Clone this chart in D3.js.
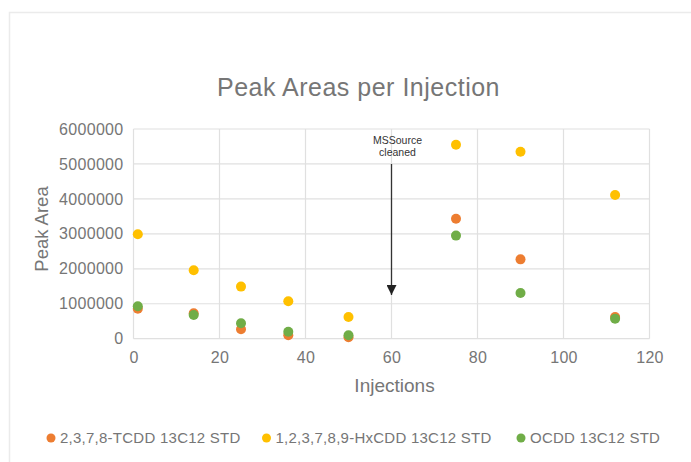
<!DOCTYPE html>
<html>
<head>
<meta charset="utf-8">
<script src="https://cdn.jsdelivr.net/npm/d3@7"></script>
<style>
  body { margin: 0; background: #fff; }
  text { font-family: "Liberation Sans", Arial, sans-serif; }
</style>
</head>
<body>
<div id="chart"></div>
<script>
// ------------------------------------------------------------
// 1. Data
// ------------------------------------------------------------
const injections = [1, 14, 25, 36, 50, 75, 90, 112];
const tcdd = [860000, 730000, 270000, 100000, 40000, 3430000, 2270000, 620000];
const hxcdd = [2990000, 1960000, 1490000, 1070000, 620000, 5550000, 5350000, 4110000];
const ocdd = [930000, 680000, 440000, 200000, 100000, 2950000, 1310000, 570000];

const seriesNames = ["2,3,7,8-TCDD 13C12 STD", "1,2,3,7,8,9-HxCDD 13C12 STD", "OCDD 13C12 STD"];
const seriesColors = ["#ED7D31", "#FFC000", "#70AD47"];
const xTicks = [0, 20, 40, 60, 80, 100, 120];
const yTicks = [0, 1000000, 2000000, 3000000, 4000000, 5000000, 6000000];

// annotation
const noteX = 60;
const noteY = 1250000;
const noteLines = ["MSSource", "cleaned"];

// ------------------------------------------------------------
// 2. Layout
// ------------------------------------------------------------
const width = 691;
const height = 462;
const plot = { left: 133.5, right: 649.5, top: 129, bottom: 338.7 };

const svg = d3.select("#chart")
  .append("svg")
  .attr("width", width)
  .attr("height", height);

// outer chart frame
svg.append("rect")
  .attr("x", 9.5).attr("y", 12.5)
  .attr("width", 700).attr("height", 470)
  .attr("fill", "#fff")
  .attr("stroke", "#ebebeb")
  .attr("stroke-width", 1.5);

const x = d3.scaleLinear().domain([0, 120]).range([plot.left, plot.right]);
const y = d3.scaleLinear().domain([0, 6000000]).range([plot.bottom, plot.top]);

const textColor = "#767676";
const gridColor = "#e0e0e0";

// ------------------------------------------------------------
// 3. Grid + axes
// ------------------------------------------------------------
svg.append("g")
  .selectAll("line.h")
  .data(yTicks)
  .join("line")
  .attr("x1", plot.left).attr("x2", plot.right)
  .attr("y1", d => y(d)).attr("y2", d => y(d))
  .attr("stroke", gridColor).attr("stroke-width", 1.2);

svg.append("g")
  .selectAll("line.v")
  .data(xTicks)
  .join("line")
  .attr("x1", d => x(d)).attr("x2", d => x(d))
  .attr("y1", plot.top).attr("y2", plot.bottom)
  .attr("stroke", gridColor).attr("stroke-width", 1.2);

const yAxis = svg.append("g")
  .attr("transform", `translate(${plot.left},0)`)
  .call(d3.axisLeft(y).tickValues(yTicks).tickSize(0).tickPadding(10).tickFormat(d3.format("d")));
yAxis.select(".domain").remove();
yAxis.selectAll("text")
  .attr("fill", textColor)
  .style("font-size", "16px")
  .style("letter-spacing", "0.3px")
  .style("font-family", "'Liberation Sans', Arial, sans-serif");

const xAxis = svg.append("g")
  .attr("transform", `translate(0,${plot.bottom})`)
  .call(d3.axisBottom(x).tickValues(xTicks).tickSize(0).tickPadding(13));
xAxis.select(".domain").remove();
xAxis.selectAll("text")
  .attr("fill", textColor)
  .style("font-size", "16px")
  .style("letter-spacing", "0.3px")
  .style("font-family", "'Liberation Sans', Arial, sans-serif");

// titles
svg.append("text")
  .attr("x", 358.5).attr("y", 96)
  .attr("text-anchor", "middle")
  .attr("fill", textColor)
  .style("font-size", "25px")
  .style("letter-spacing", "0.5px")
  .text("Peak Areas per Injection");

svg.append("text")
  .attr("x", (plot.left + plot.right) / 2 + 3).attr("y", 392)
  .attr("text-anchor", "middle")
  .attr("fill", textColor)
  .style("font-size", "19px")
  .text("Injections");

svg.append("text")
  .attr("transform", "translate(48,229) rotate(-90)")
  .attr("text-anchor", "middle")
  .attr("fill", textColor)
  .style("font-size", "18.5px")
  .text("Peak Area");

// ------------------------------------------------------------
// 4. Points
// ------------------------------------------------------------
const allSeries = [tcdd, hxcdd, ocdd];
allSeries.forEach((vals, i) => {
  svg.append("g")
    .selectAll("circle")
    .data(vals.map((v, j) => ({ x: injections[j], y: v })))
    .join("circle")
    .attr("cx", d => x(d.x))
    .attr("cy", d => y(d.y))
    .attr("r", 5)
    .attr("fill", seriesColors[i]);
});

// ------------------------------------------------------------
// 5. Annotation arrow
// ------------------------------------------------------------
svg.append("defs").append("marker")
  .attr("id", "head")
  .attr("viewBox", "0 0 10 10")
  .attr("refX", 10).attr("refY", 5)
  .attr("markerWidth", 10).attr("markerHeight", 10)
  .attr("markerUnits", "userSpaceOnUse")
  .attr("orient", "auto")
  .append("path")
  .attr("d", "M0,0 L10,5 L0,10 Z")
  .attr("fill", "#222");

svg.append("line")
  .attr("x1", x(noteX)).attr("x2", x(noteX))
  .attr("y1", 164).attr("y2", y(noteY))
  .attr("stroke", "#333")
  .attr("stroke-width", 1.3)
  .attr("marker-end", "url(#head)");

svg.append("g")
  .selectAll("text")
  .data(noteLines)
  .join("text")
  .attr("x", x(noteX) + 6)
  .attr("y", (d, i) => 144 + i * 11.5)
  .attr("text-anchor", "middle")
  .attr("fill", "#333")
  .style("font-size", "10.5px")
  .text(d => d);

// ------------------------------------------------------------
// 6. Legend
// ------------------------------------------------------------
const legendX = [51, 266.5, 521];
const legend = svg.append("g")
  .selectAll("g")
  .data(seriesNames)
  .join("g")
  .attr("transform", (d, i) => `translate(${legendX[i]},438)`);

legend.append("circle")
  .attr("r", 4.5)
  .attr("fill", (d, i) => seriesColors[i]);

legend.append("text")
  .attr("x", 9)
  .attr("y", 4.8)
  .attr("fill", textColor)
  .style("font-size", "15px")
  .style("letter-spacing", "0.25px")
  .text(d => d);
</script>
</body>
</html>
